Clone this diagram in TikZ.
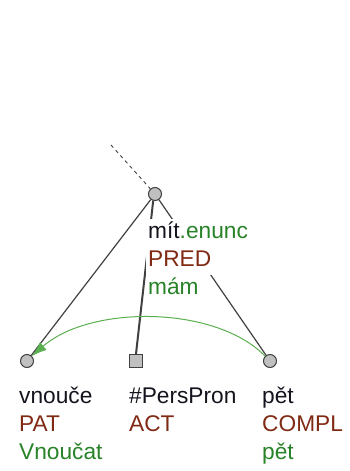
\documentclass[tikz,border=0pt]{standalone}
\usepackage{fontspec}
\setmainfont{Liberation Sans}
\usetikzlibrary{arrows.meta}
\definecolor{tblack}{RGB}{20,20,30}
\definecolor{tbrown}{RGB}{128,42,20}
\definecolor{tgreen}{RGB}{40,130,40}
\definecolor{tarrow}{RGB}{90,175,80}
\definecolor{tline}{RGB}{64,64,64}
\definecolor{tfill}{RGB}{192,192,192}
\tikzset{
  tnode/.style={circle,draw=tline,fill=tfill,line width=1pt,minimum size=13pt,inner sep=0pt},
  tsq/.style={rectangle,draw=tline,fill=tfill,line width=1.2pt,minimum size=13pt,inner sep=0pt},
  edge/.style={draw=tline,line width=1.2pt},
  lab/.style={anchor=base west,inner sep=1pt,font=\fontsize{22.7}{28}\selectfont},
  labw/.style={lab,fill=white,inner xsep=2pt,inner ysep=2.5pt,text height=17pt,text depth=6pt},
}
\begin{document}
\begin{tikzpicture}[x=1pt,y=-1pt]
\useasboundingbox (0,0) rectangle (350,471);
\coordinate (top) at (111,145);
\node[tnode] (root) at (155,194) {};
\node[tnode] (lc) at (27,361) {};
\node[tsq] (mc) at (136,361) {};
\node[tnode] (rc) at (270,361) {};
\draw[edge,line width=0.9pt,dash pattern=on 3.5pt off 3.5pt] (top) -- (root);
\draw[edge] (root) -- (lc);
\draw[edge,line width=2pt] (root.-105) -- (mc.north);
\draw[edge] (root) -- (rc);
\draw[tarrow,line width=1pt,-{Latex[length=15pt,width=10pt]}] (rc.north west) .. controls (215,305) and (90,305) .. (lc.north east);
\node[labw] (r1) at (146,238) {\color{tblack}mít\color{tgreen}.enunc};
\node[labw] (r2) at (146,266) {\color{tbrown}PRED};
\node[labw] (r3) at (146,294) {\color{tgreen}mám};
\node[lab] (l1) at (18,403) {\color{tblack}vnouče};
\node[lab] (l2) at (18,431) {\color{tbrown}PAT};
\node[lab] (l3) at (18,459) {\color{tgreen}Vnoučat};
\node[lab] (m1) at (128,403) {\color{tblack}\#PersPron};
\node[lab] (m2) at (128,431) {\color{tbrown}ACT};
\node[lab] (p1) at (261,403) {\color{tblack}pět};
\node[lab] (p2) at (261,431) {\color{tbrown}COMPL};
\node[lab] (p3) at (261,459) {\color{tgreen}pět};
\end{tikzpicture}
\end{document}
